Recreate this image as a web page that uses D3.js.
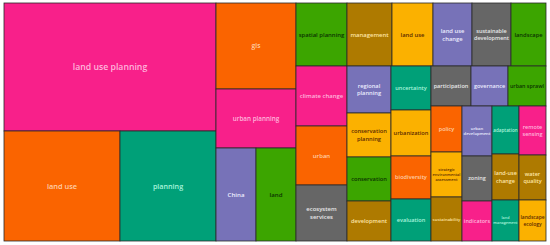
<!DOCTYPE html>
<html>
<head>
<meta charset="utf-8">
<script src="https://cdn.jsdelivr.net/npm/d3@7"></script>
<style>
body{margin:0;background:#fff}
svg{display:block}
text{font-family:"Open Sans",sans-serif;font-weight:600}
</style>
</head>
<body>
<svg id="chart" width="550" height="245"></svg>
<script>
// keyword tiles, value = tile area
var keywords = ["land use planning","land use","planning",
  "gis","urban planning","China","land",
  "spatial planning","climate change","urban","ecosystem services",
  "management","land use","land use change","sustainable development","landscape",
  "regional planning","conservation planning","conservation","development",
  "uncertainty","urbanization","biodiversity","evaluation",
  "participation","governance","urban sprawl",
  "policy","strategic environmental assessment","sustainability",
  "urban development","zoning","indicators",
  "adaptation","land-use change","land management",
  "remote sensing","water quality","landscape ecology"];
var values = [27136,12760,10560,
  6880,4720,3720,3720,
  3213,3060,3009,2856,
  2835,2583,2457,2457,2205,
  2068,1936,1936,1760,
  1760,1840,1720,1680,
  1600,1480,1520,
  1426,1395,1364,
  1500,1350,1200,
  1296,1242,1107,
  1323,1215,1107];
// layout block each keyword sits in
var blocks = ["A","A/A2","A/A2",
  "B","B","B/B3","B/B3",
  "C","C","C","C",
  "D/D1","D/D1","D/D1","D/D1","D/D1",
  "D/D2/c1","D/D2/c1","D/D2/c1","D/D2/c1",
  "D/D2/c2","D/D2/c2","D/D2/c2","D/D2/c2",
  "D/D2/c3/r","D/D2/c3/r","D/D2/c3/r",
  "D/D2/c3/s/s1","D/D2/c3/s/s1","D/D2/c3/s/s1",
  "D/D2/c3/s/s2","D/D2/c3/s/s2","D/D2/c3/s/s2",
  "D/D2/c3/s/s3","D/D2/c3/s/s3","D/D2/c3/s/s3",
  "D/D2/c3/s/s4","D/D2/c3/s/s4","D/D2/c3/s/s4"];

// styles
var tone = ["pink","orange","teal","orange","pink","purple","green",
  "green","pink","orange","gray",
  "brown","yellow","purple","gray","green",
  "purple","yellow","green","brown",
  "teal","yellow","orange","teal",
  "gray","purple","green",
  "orange","yellow","brown",
  "purple","gray","pink",
  "teal","brown","teal",
  "pink","brown","yellow"];
var fill = {pink:"#f8208a",orange:"#fa6400",teal:"#00a078",purple:"#7772b8",
  green:"#3ca500",yellow:"#fbb100",brown:"#ae7a00",gray:"#666666"};
var ink = {pink:"#ffb6dc",orange:"#ffcfa8",teal:"#a8f5dc",purple:"#ececff",
  green:"#0b3300",yellow:"#5b2a00",brown:"#ffe6a8",gray:"#e8e8e8"};

var svg = d3.select("#chart"), W = 542, H = 238;

// build the nesting from the block paths
var rows = [{id:"root",parent:null}], seen = {root:true};
keywords.forEach(function(k,i){
  var p = "root";
  blocks[i].split("/").forEach(function(b){
    var id = p + "/" + b;
    if(!seen[id]){ seen[id] = true; rows.push({id:id,parent:p}); }
    p = id;
  });
  rows.push({id:p + "/#" + i,parent:p,i:i});
});
var root = d3.stratify().id(function(d){return d.id;}).parentId(function(d){return d.parent;})(rows)
  .sum(function(d){ return d.i === undefined ? 0 : values[d.i]; });
d3.treemap().tile(d3.treemapSliceDice).size([W,H])(root);

var g = svg.append("g").attr("transform","translate(4,3)");
var cells = g.selectAll("g.cell").data(root.leaves()).enter().append("g").attr("class","cell")
  .attr("transform",function(d){ return "translate(" + d.x0 + "," + d.y0 + ")"; });

cells.append("rect")
  .attr("width",function(d){ return d.x1 - d.x0; })
  .attr("height",function(d){ return d.y1 - d.y0; })
  .attr("fill",function(d){ return fill[tone[d.data.i]]; })
  .attr("stroke","#2a2a2a").attr("stroke-width",0.8);

// measure helper (size 10)
var probe = svg.append("text").attr("font-size",10).attr("visibility","hidden");
function textW(s){ probe.text(s); return probe.node().getComputedTextLength(); }

// every way to cut the words into n lines
function splits(words,n){
  if(n == 1) return [[words.join(" ")]];
  var out = [];
  for(var k=1;k<=words.length-n+1;k++){
    splits(words.slice(k),n-1).forEach(function(rest){
      out.push([words.slice(0,k).join(" ")].concat(rest));
    });
  }
  return out;
}

var LH = 1.37;
cells.each(function(d){
  var w = d.x1 - d.x0, h = d.y1 - d.y0, t = tone[d.data.i];
  var cap = 4.6 + 0.025*Math.sqrt(w*h);
  var words = keywords[d.data.i].split(" "), best = null;
  for(var n=1;n<=Math.min(3,words.length);n++){
    // narrowest cut for this many lines
    var pick = null;
    splits(words,n).forEach(function(lines){
      var mw = d3.max(lines,textW)/10;
      if(!pick || mw < pick.mw) pick = {mw:mw,lines:lines};
    });
    var fs = Math.min(cap,(w*0.9)/pick.mw,(h*0.85)/(n*LH));
    if(!best || fs > best.fs*1.1) best = {fs:fs,lines:pick.lines};
  }
  var txt = d3.select(this).append("text")
    .attr("text-anchor","middle").attr("font-size",best.fs)
    .attr("fill",ink[t]);
  var lh = best.fs*LH, n0 = best.lines.length;
  best.lines.forEach(function(l,j){
    txt.append("tspan").attr("x",w/2)
      .attr("y",h/2 + (j - (n0-1)/2)*lh).attr("dy","0.35em").text(l);
  });
});
probe.remove();
</script>
</body>
</html>
